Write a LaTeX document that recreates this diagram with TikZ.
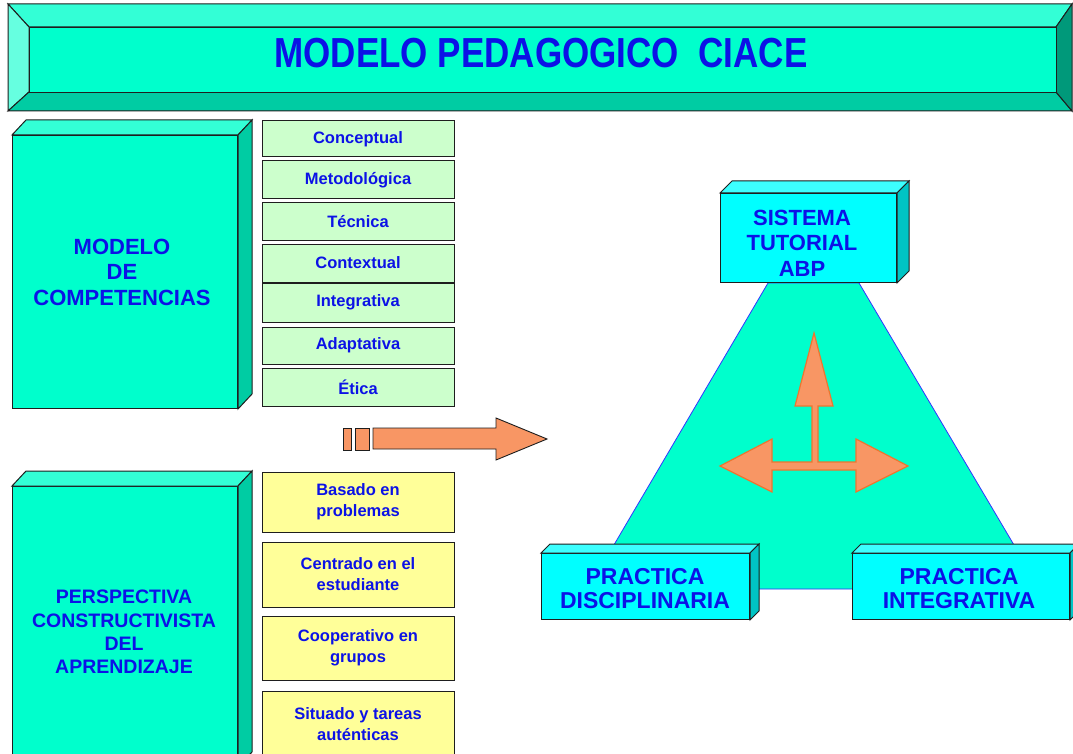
\documentclass[tikz,border=0pt]{standalone}
\usepackage{fontspec}
\setmainfont{Liberation Sans}
\usetikzlibrary{calc}
\definecolor{tblue}{RGB}{12,18,230}
\definecolor{aqua}{RGB}{0,255,204}
\definecolor{aquatop}{RGB}{51,255,214}
\definecolor{aqualeft}{RGB}{102,255,224}
\definecolor{aquabot}{RGB}{0,204,163}
\definecolor{aquadark}{RGB}{0,153,122}
\definecolor{cyanf}{RGB}{0,255,255}
\definecolor{cyantop}{RGB}{60,255,255}
\definecolor{cyanside}{RGB}{0,196,196}
\definecolor{lgreen}{RGB}{204,255,204}
\definecolor{lyellow}{RGB}{255,255,153}
\definecolor{orangef}{RGB}{248,150,100}
\definecolor{orangee}{RGB}{236,118,48}
\definecolor{edgec}{RGB}{30,30,30}
\definecolor{trib}{RGB}{50,50,255}
\newcommand{\cubefaces}[5]{%
  \filldraw[fill=#4, edge] (#1.north west) -- ++(#2,-#3) -- ($(#1.north east)+(#2,-#3)$) -- (#1.north east) -- cycle;
  \filldraw[fill=#5, edge] (#1.north east) -- ++(#2,-#3) -- ($(#1.south east)+(#2,-#3)$) -- (#1.south east) -- cycle;
}
\begin{document}
\begin{tikzpicture}[x=1pt,y=-1pt,line join=miter,
  edge/.style={draw=edgec,line width=1pt},
  bigbox/.style={edge,fill=aqua,anchor=north west,inner sep=0pt},
  compbox/.style={edge,fill=lgreen,minimum width=192,inner sep=0pt,text=tblue,
    font=\fontsize{16.5}{21}\selectfont\bfseries},
  ylwbox/.style={edge,fill=lyellow,minimum width=192,inner sep=0pt,text=tblue,align=center,
    font=\fontsize{16.5}{21}\selectfont\bfseries},
  cyanbox/.style={edge,fill=cyanf,anchor=north west,inner sep=0pt},
  bigtxt/.style={text=tblue,align=center,inner sep=0pt},
  arrowshape/.style={fill=orangef,draw=edgec,line width=0.9pt},
  crossshape/.style={fill=orangef,draw=orangee,line width=1.2pt},
]
\useasboundingbox (0,0) rectangle (1073,754);
\fill[white] (0,0) rectangle (1073,754);

% ---------- title banner ----------
\filldraw[fill=aquatop, edge] (8,4) -- (1072,4) -- (1056,27) -- (29,27) -- cycle;
\filldraw[fill=aqualeft, edge] (8,4) -- (29,27) -- (29,92) -- (8,111) -- cycle;
\filldraw[fill=aquabot, edge] (8,111) -- (29,92) -- (1056,92) -- (1072,111) -- cycle;
\filldraw[fill=aquadark, edge] (1072,4) -- (1056,27) -- (1056,92) -- (1072,111) -- cycle;
\node[edge, fill=aqua, minimum width=1027, minimum height=65, anchor=north west, inner sep=0pt] (banner) at (29,27) {};
\node[text=tblue, inner sep=0pt, font=\fontsize{35}{35}\selectfont\bfseries] (title) at (541,53)
  {\scalebox{1}[1.2]{MODELO PEDAGOGICO\ \ CIACE}};

% ---------- trapezoid ----------
\filldraw[fill=aqua, draw=trib, line width=0.8pt] (768,283) -- (859,283) -- (1040,589) -- (588,589) -- cycle;

% ---------- modelo de competencias ----------
\node[bigbox, minimum width=225, minimum height=273] (mc) at (12,135) {};
\cubefaces{mc}{14}{15}{aquatop}{aquabot}
\node[bigtxt, font=\fontsize{22}{25.5}\selectfont\bfseries] (mctxt) at (122,272) {MODELO\\DE\\COMPETENCIAS};

\node[compbox, minimum height=36] (c1) at (358,139) {Conceptual};
\node[compbox, minimum height=38] (c2) at (358,180) {Metodológica};
\node[compbox, minimum height=37] (c3) at (358,221.5) {Técnica};
\node[compbox, minimum height=38] (c4) at (358,263) {Contextual};
\node[compbox, minimum height=39] (c5) at (358,302.5) {Integrativa};
\node[compbox, minimum height=37] (c6) at (358,345.5) {Adaptativa};
\node[compbox, minimum height=38] (c7) at (358,387) {Ética};

% ---------- perspectiva constructivista ----------
\node[bigbox, minimum width=225, minimum height=280] (pc) at (12,486) {};
\cubefaces{pc}{14}{15}{aquatop}{aquabot}
\node[bigtxt, font=\fontsize{19.5}{23.4}\selectfont\bfseries] (pctxt) at (124,632) {PERSPECTIVA\\CONSTRUCTIVISTA\\DEL\\APRENDIZAJE};

\node[ylwbox, minimum height=60] (y1) at (358,502) {Basado en\\problemas};
\node[ylwbox, minimum height=65] (y2) at (358,574.5) {Centrado en el\\estudiante};
\node[ylwbox, minimum height=64] (y3) at (358,648) {Cooperativo en\\grupos};
\node[ylwbox, minimum height=66] (y4) at (358,724) {Situado y tareas\\auténticas};

% ---------- big arrow ----------
\filldraw[arrowshape] (343,428) rectangle (351,450);
\filldraw[arrowshape] (355,428) rectangle (369,450);
\filldraw[arrowshape] (373,428) -- (496,428) -- (496,418) -- (547,439) -- (496,460) -- (496,449) -- (373,449) -- cycle;

% ---------- right boxes ----------
\node[cyanbox, minimum width=176, minimum height=89] (st) at (720,193) {};
\cubefaces{st}{12}{12}{cyantop}{cyanside}
\node[bigtxt, font=\fontsize{22}{25.5}\selectfont\bfseries] (sttxt) at (802,243) {SISTEMA\\TUTORIAL\\ABP};

\node[cyanbox, minimum width=208, minimum height=66] (pd) at (541,553) {};
\cubefaces{pd}{9}{9}{cyantop}{cyanside}
\node[bigtxt, font=\fontsize{23}{24}\selectfont\bfseries] (pdtxt) at (645,589) {PRACTICA\\DISCIPLINARIA};

\node[cyanbox, minimum width=217, minimum height=66] (pi) at (852,553) {};
\cubefaces{pi}{9}{9}{cyantop}{cyanside}
\node[bigtxt, font=\fontsize{23}{24}\selectfont\bfseries] (pitxt) at (959,589) {PRACTICA\\INTEGRATIVA};

% ---------- cross arrows ----------
\filldraw[crossshape] (814,333) -- (833,406) -- (818,406) -- (818,462) -- (856,462) -- (856,439) -- (908,466)
  -- (856,492) -- (856,470) -- (772,470) -- (772,492) -- (720,466) -- (772,439) -- (772,462)
  -- (812,462) -- (812,406) -- (795,406) -- cycle;
\end{tikzpicture}
\end{document}
